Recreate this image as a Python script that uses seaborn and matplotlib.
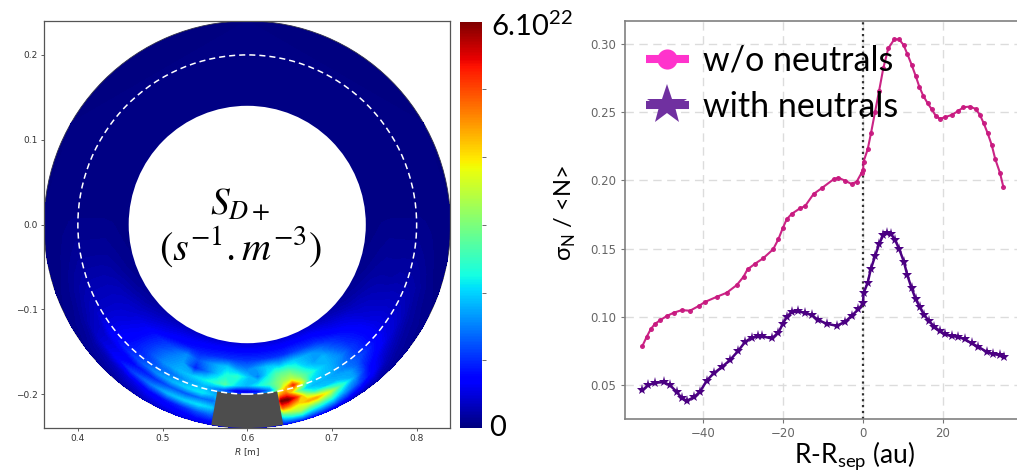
"""
Two panel figure: D+ source map in the poloidal plane, and the
density fluctuation rate profile with and without neutrals.
"""

import numpy as np
import matplotlib.pyplot as plt
from matplotlib.cm import ScalarMappable
from matplotlib.colors import Normalize
from matplotlib.lines import Line2D
from matplotlib.patches import Circle, Wedge
import seaborn as sns

W, H = 1017, 471

# ── profile data ────────────────────────────────────────────
no_neutrals_x = [-55.1, -54, -53, -52, -50.6, -49, -47.3, -45.2, -43.2, -41, -39.4, -36.5, -34, -31.5,
                 -29.8, -28.8, -26.9, -24.9, -22.4, -21.1, -20, -19, -17.8, -15.7, -14.4, -12.3, -10.3,
                 -7.3, -6.1, -4.4, -2.8, -1.5, -0.25, 0.1, 0.2, 1.25, 2.1, 3.1, 4.1, 5.15, 6.4, 7.9, 9.1,
                 10.2, 11.15, 12.25, 13.25, 14.15, 15.15, 16.25, 17.25, 18.3, 19.3, 20.6, 22.25, 23.9,
                 25.15, 26.8, 28.25, 29.3, 30.25, 31.25, 32.25, 33.15, 34.3, 35.15]
no_neutrals_y = [0.0786, 0.0854, 0.091, 0.0947, 0.0977, 0.1006, 0.103, 0.105, 0.1045, 0.108, 0.111, 0.1147,
                 0.1177, 0.1233, 0.1294, 0.1348, 0.139, 0.1429, 0.1495, 0.1568, 0.1649, 0.1715, 0.1754,
                 0.1795, 0.1812, 0.19, 0.1942, 0.2008, 0.202, 0.1998, 0.1974, 0.1991, 0.2057, 0.2076,
                 0.2137, 0.2228, 0.235, 0.2504, 0.2656, 0.2822, 0.2968, 0.3034, 0.3034, 0.2993, 0.2927,
                 0.2846, 0.2765, 0.2687, 0.2619, 0.2565, 0.2521, 0.2472, 0.2452, 0.2463, 0.248, 0.2509,
                 0.2536, 0.2541, 0.2524, 0.248, 0.2419, 0.2345, 0.226, 0.2155, 0.2057, 0.1954]

with_neutrals_x = [-55.1, -53.6, -51.9, -49.8, -48.2, -46.5, -45.3, -44, -42.3, -40.7, -39, -37.3, -35.3,
                   -33.2, -31.1, -29.4, -27.8, -26.1, -25.25, -22.75, -21.1, -20, -19, -17.8, -16.1, -14.4,
                   -12.75, -11.1, -9, -6.5, -4.4, -2.75, -1.1, 0.1, 0.2, 1.25, 2, 3.1, 4.1, 5.15, 6.15, 7.1,
                   8.1, 9.15, 10.3, 11.15, 12.25, 13.25, 14.3, 15.4, 16.6, 17.9, 19.3, 20.6, 22.25, 23.9,
                   25.6, 27.25, 28.9, 31, 32.65, 34.3, 35.3]
with_neutrals_y = [0.0463, 0.05, 0.0517, 0.0522, 0.05, 0.0451, 0.0407, 0.0385, 0.041, 0.0451, 0.0532, 0.0586,
                   0.063, 0.0683, 0.0752, 0.0817, 0.0847, 0.0859, 0.0859, 0.0842, 0.0884, 0.0947, 0.1, 0.1035,
                   0.104, 0.103, 0.1013, 0.0977, 0.095, 0.0935, 0.0964, 0.1008, 0.1055, 0.1099, 0.1173, 0.125,
                   0.1348, 0.1446, 0.1534, 0.16, 0.1617, 0.1607, 0.1563, 0.1495, 0.1404, 0.1306, 0.1209, 0.113,
                   0.107, 0.1013, 0.0969, 0.0928, 0.0896, 0.0872, 0.0859, 0.0854, 0.0835, 0.0806, 0.0781,
                   0.0744, 0.0727, 0.072, 0.0703]

profile_xticks = [-40, -20, 0, 20]
profile_yticks = [0.05, 0.10, 0.15, 0.20, 0.25, 0.30]

# ── source map data (fraction of the colorbar top) ──────────
radii = [0.14, 0.15, 0.16, 0.17, 0.18, 0.19, 0.197, 0.205, 0.212, 0.22, 0.228, 0.24]
# degrees away from straight down, negative on the low R side
angles = [-180, -120, -95, -80, -70, -60, -52, -45, -38, -31, -25, -20, -15, -11, -8, -4, 0, 4, 8, 11, 13, 16,
          19, 22, 26, 30, 35, 40, 46, 52, 60, 70, 80, 95, 120, 180]
source_levels = [
    [0, 0, 0, .005, .01, .015, .02, .03, .04, .05, .055, .06, .065, .07, .07, .07, .07, .07, .07, .07, .07, .07, .07, .07, .065, .06, .05, .04, .03, .02, .015, .01, .005, 0, 0, 0],
    [0, 0, 0, .01, .015, .025, .035, .05, .07, .09, .10, .11, .115, .12, .12, .12, .12, .12, .12, .12, .12, .12, .12, .12, .115, .11, .09, .07, .05, .035, .025, .015, .01, 0, 0, 0],
    [0, 0, .005, .015, .025, .04, .055, .075, .10, .125, .14, .15, .16, .17, .17, .17, .17, .17, .17, .17, .17, .17, .18, .18, .17, .16, .13, .10, .08, .055, .04, .025, .015, .005, 0, 0],
    [0, 0, .005, .02, .035, .055, .07, .10, .15, .20, .26, .20, .26, .30, .32, .26, .24, .28, .32, .32, .30, .32, .32, .30, .28, .24, .18, .14, .10, .07, .05, .03, .02, .005, 0, 0],
    [0, 0, .005, .02, .04, .06, .08, .11, .17, .24, .28, .15, .24, .32, .38, .40, .32, .24, .36, .44, .46, .46, .40, .33, .28, .30, .22, .16, .12, .08, .055, .03, .02, .005, 0, 0],
    [0, 0, .005, .02, .04, .06, .09, .12, .18, .26, .30, .32, .36, .40, .44, .34, .30, .36, .42, .50, .54, .58, .50, .42, .34, .30, .26, .18, .13, .09, .06, .035, .02, .005, 0, 0],
    [0, 0, .005, .02, .04, .06, .09, .13, .17, .22, .24, .28, .30, .25, .20, .08, .08, .12, .25, .50, .65, .85, .62, .36, .32, .30, .24, .18, .13, .09, .06, .035, .02, .005, 0, 0],
    [0, 0, .005, .02, .035, .06, .11, .15, .20, .26, .30, .33, .35, .30, .30, .30, .30, .30, .40, .75, .80, .55, .35, .30, .30, .28, .24, .20, .14, .09, .06, .035, .02, .005, 0, 0],
    [0, 0, .005, .015, .03, .05, .07, .10, .13, .16, .20, .20, .22, .22, .30, .30, .30, .30, .50, 1.0, 1.0, .85, .55, .38, .32, .30, .28, .17, .12, .08, .05, .03, .015, .005, 0, 0],
    [0, 0, .005, .01, .02, .035, .07, .11, .18, .24, .30, .32, .34, .32, .20, .20, .20, .20, .30, .80, .75, .65, .72, .72, .60, .42, .28, .14, .08, .05, .03, .02, .01, .005, 0, 0],
    [0, 0, 0, .005, .01, .02, .035, .05, .08, .12, .14, .16, .20, .22, .18, .18, .18, .18, .25, .45, .50, .55, .45, .42, .38, .28, .20, .12, .05, .03, .02, .01, .005, 0, 0, 0],
    [0, 0, 0, 0, .005, .01, .015, .02, .03, .05, .07, .08, .08, .08, .08, .08, .08, .08, .10, .12, .12, .12, .11, .10, .08, .06, .04, .03, .02, .015, .01, .005, 0, 0, 0, 0],
]
map_xticks = [0.4, 0.5, 0.6, 0.7, 0.8]
map_yticks = [-0.2, -0.1, 0.0, 0.1, 0.2]
cbar_ticks = [1, 2, 3, 4, 5]
cbar_top = 6
R0 = 0.6
OUTER, INNER, SEPARATRIX = 0.24, 0.14, 0.2


def px_axes(fig, left, top, right, bottom):
    """Add axes from pixel edges of the final image."""
    return fig.add_axes([left / W, 1 - bottom / H, (right - left) / W, (bottom - top) / H])


sns.set_style("ticks")
plt.rcParams["font.family"] = ["DejaVu Sans"]
plt.rcParams["text.color"] = "black"
plt.rcParams["mathtext.fontset"] = "custom"
plt.rcParams["mathtext.rm"] = "Lato"
overlay_font = ["Lato", "DejaVu Sans"]

fig = plt.figure(figsize=(W / 100, H / 100), dpi=100)

# ── left: source map ────────────────────────────────────────
ax = px_axes(fig, 44, 21, 450.5, 428)
r_grid, a_grid = np.meshgrid(radii, np.radians(angles), indexing="ij")
field = np.array(source_levels) * cbar_top

ax.add_patch(Wedge((R0, 0), OUTER, 0, 360, width=OUTER - INNER, fc=plt.cm.jet(0.0), ec="#303048", lw=0.6, zorder=1))
ax.contourf(R0 + r_grid * np.sin(a_grid), -r_grid * np.cos(a_grid), field,
            levels=np.linspace(0, cbar_top, 129), cmap="jet", vmin=0, vmax=cbar_top, antialiased=False, zorder=2)
ax.add_patch(Circle((R0, 0), INNER, fc="white", ec="none", zorder=3))
ax.add_patch(Wedge((R0, 0), OUTER, 259.8, 280.2, width=OUTER - SEPARATRIX, fc="#4d4d4d", ec="none", zorder=3))
ax.add_patch(Circle((R0, 0), SEPARATRIX, fill=False, ec="white", lw=1.1, ls=(0, (4, 2.6)), zorder=4))

ax.set_xlim(0.36, 0.84)
ax.set_ylim(-0.24, 0.24)
ax.set_xticks(map_xticks)
ax.set_yticks(map_yticks)
ax.tick_params(labelsize=6.5, length=2.5, width=0.6, color="#444444", labelcolor="#333333", pad=2)
ax.set_xlabel("$R$ [m]", fontsize=6.5, color="#333333", labelpad=2, math_fontfamily="dejavusans")
for spine in ax.spines.values():
    spine.set_color("#555555")
    spine.set_linewidth(0.9)

ax.text(0.592, 0.023, "$S_{D+}$", fontsize=27, ha="center", va="center", math_fontfamily="stix", zorder=5)
ax.text(0.592, -0.026, r"$(s^{-1}.m^{-3})$", fontsize=29, ha="center", va="center", math_fontfamily="stix", zorder=5)

# ── colorbar ────────────────────────────────────────────────
cax = px_axes(fig, 460, 21.5, 482, 428)
cbar = fig.colorbar(ScalarMappable(Normalize(0, cbar_top), "jet"), cax=cax)
cbar.set_ticks(cbar_ticks)
cbar.set_ticklabels([""] * len(cbar_ticks))
cbar.outline.set_visible(False)
cax.tick_params(length=3, width=0.6, color="#555555")
fig.text(491 / W, 1 - 27 / H, r"$\mathrm{6.10^{22}}$", fontsize=21, va="center", ha="left")
fig.text(489 / W, 1 - 428 / H, "0", fontsize=21, va="center", ha="left", family=overlay_font)

# ── right: fluctuation profiles ─────────────────────────────
ax2 = px_axes(fig, 624.7, 21, 1020.7, 419)
ax2.grid(True, color="#dcdcdc", linestyle=(0, (6, 4)), linewidth=1.0)
ax2.set_axisbelow(True)
sns.lineplot(x=no_neutrals_x, y=no_neutrals_y, ax=ax2, color="#c8187f", linewidth=1.5, marker="o",
             markersize=3.6, markeredgewidth=0, estimator=None, sort=False, alpha=0.95)
sns.lineplot(x=with_neutrals_x, y=with_neutrals_y, ax=ax2, color="#4b0082", linewidth=1.8, marker="*",
             markersize=8, markeredgewidth=0, estimator=None, sort=False)
ax2.axvline(0, color="#333333", linestyle=":", linewidth=1.6, zorder=1.5)
ax2.set_xlim(-59.5, 39.5)
ax2.set_ylim(0.0252, 0.3168)
ax2.set_xticks(profile_xticks)
ax2.set_yticks(profile_yticks)
ax2.set_yticklabels([f"{v:.2f}" for v in profile_yticks])
ax2.tick_params(labelsize=8.5, length=3, width=0.8, color="#777777", labelcolor="#666666", pad=3)
for spine in ax2.spines.values():
    spine.set_color("#808080")
    spine.set_linewidth(1.2)

handles = [
    Line2D([], [], color="#ff33cc", linewidth=5.8, marker="o", markersize=14.5, markeredgewidth=0,
           solid_capstyle="butt"),
    Line2D([], [], color="#7030a0", linewidth=5.8, marker="*", markersize=30, markeredgewidth=0,
           solid_capstyle="butt"),
]
leg = ax2.legend(handles, ["w/o neutrals", "with neutrals"], frameon=False, loc="upper left",
                 bbox_to_anchor=(646 / W, 1 - 45 / H), bbox_transform=fig.transFigure,
                 prop={"family": overlay_font, "size": 24.5}, handlelength=1.25, handletextpad=0.42,
                 labelspacing=0.42, borderpad=0, borderaxespad=0)
leg.set_zorder(6)

fig.text(565 / W, 1 - 213 / H, "σ$_{\\mathrm{N}}$ / <N>", fontsize=17, rotation=90, ha="center", va="center",
         family=overlay_font)
fig.text(855 / W, 1 - 456 / H, "R-R$_{\\mathrm{sep}}$ (au)", fontsize=19, ha="center", va="center",
         family=overlay_font)

fig.savefig("out.png", dpi=100)
plt.close(fig)
